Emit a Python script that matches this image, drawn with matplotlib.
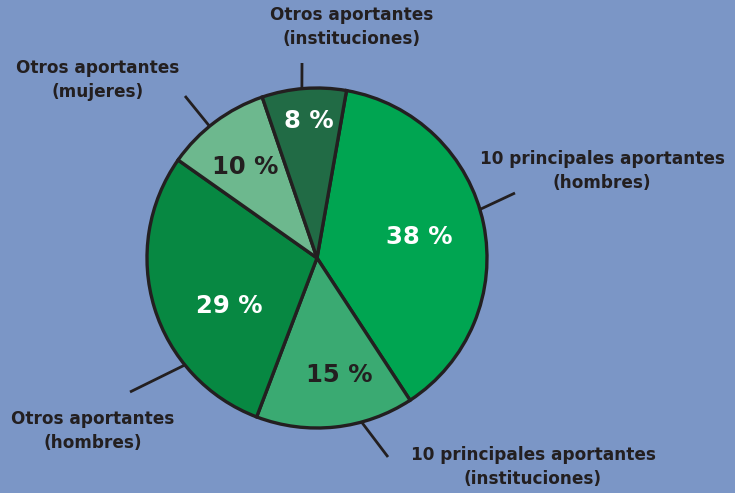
import numpy as np
import matplotlib.pyplot as plt

# Slice data (clockwise, starting at the big one)
labels = ["10 principales aportantes\n(hombres)",
          "10 principales aportantes\n(instituciones)",
          "Otros aportantes\n(hombres)",
          "Otros aportantes\n(mujeres)",
          "Otros aportantes\n(instituciones)"]
shares = [38, 15, 29, 10, 8]
colors = ["#00A551", "#3AAA72", "#078842", "#6DB88E", "#216B45"]
pct_colors = ["white", "#231F20", "white", "#231F20", "white"]

W, H = 735, 493
fig = plt.figure(figsize=(W / 100, H / 100), dpi=100)
fig.patch.set_facecolor("#7B96C6")
ax = fig.add_axes([0, 0, 1, 1])

cx, cy, r = 317, H - 258, 170
dark = "#231F20"

wedges, _ = ax.pie(shares, colors=colors, startangle=80, counterclock=False,
                   center=(cx, cy), radius=r, frame=True,
                   wedgeprops=dict(edgecolor=dark, linewidth=2.4))
ax.set_xlim(0, W)
ax.set_ylim(0, H)
ax.set_aspect("equal")
ax.axis("off")

# percentage labels (pixel positions in the original image)
pct_pos = [(419, 237), (339, 375), (229, 306), (245, 167), (309, 121)]
for s, (px, py), c in zip(shares, pct_pos, pct_colors):
    ax.text(px, H - py, f"{s} %", color=c, fontsize=17.5, fontweight="bold",
            ha="center", va="center")

# leader lines: angle clockwise from top where they leave the pie, and end point
lead_ang = [73.4, 164.8, 231, 320.8, 354.9]
lead_end = [(515, 193), (388, 457), (130, 392), (185, 96), (302, 63)]
for a, (ex, ey) in zip(lead_ang, lead_end):
    t = np.radians(a)
    sx, sy = cx + r * np.sin(t), cy + r * np.cos(t)
    ax.plot([sx, ex], [sy, H - ey], color=dark, lw=2, solid_capstyle="butt")

# category labels
lab_pos = [(602, 171), (533, 467), (93, 431), (98, 80), (352, 27)]
for lab, (px, py) in zip(labels, lab_pos):
    ax.text(px, H - py, lab, color=dark, fontsize=12.2, fontweight="bold",
            ha="center", va="center", linespacing=1.4)

fig.savefig("out.png", dpi=100, facecolor=fig.get_facecolor())
